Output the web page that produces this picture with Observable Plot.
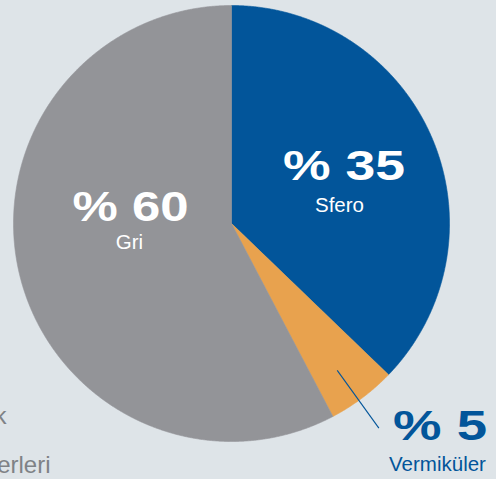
<!DOCTYPE html>
<html><head><meta charset="utf-8">
<script src="https://cdn.jsdelivr.net/npm/d3@7"></script>
<script src="https://cdn.jsdelivr.net/npm/@observablehq/plot@0.6"></script>
<style>
html,body{margin:0;padding:0;background:#dee4e8;overflow:hidden}
#chart svg{display:block}
</style></head><body><div id="chart"></div>
<script>
// Data
const categories = ["Sfero", "Vermiküler", "Gri"];
const percentLabels = [35, 5, 60];           // printed values
const sliceShares = [37.2, 5.1, 57.7];        // slice sizes as drawn in the picture
const colors = ["#02559a", "#e8a24e", "#939498"];
const sideLines = ["k", "erleri"];            // visible fragments at the left edge

// Layout
const W = 496, H = 479, cx = 231, cy = 223, R = 218;
const labelLayout = {               // pixel anchors (baselines) of label groups
  "Sfero":      {nx: 343.5, ny: 179, lx: 339, ly: 211, fill: "#ffffff", len: 122},
  "Vermiküler": {nx: 439.5, ny: 439, lx: 437, ly: 470, fill: "#02559a", len: 94},
  "Gri":        {nx: 130,   ny: 220, lx: 129, ly: 248, fill: "#ffffff", len: 116}
};
const ux = px => (px - cx) / R, uy = py => (cy - py) / R;

const arcs = d3.pie().sort(null).value(d => d.share)(
  categories.map((c, i) => ({name: c, share: sliceShares[i], pct: percentLabels[i]}))
);

const poly = [];
arcs.forEach(a => {
  const n = Math.max(2, Math.ceil((a.endAngle - a.startAngle) / 0.004));
  poly.push({name: a.data.name, x: 0, y: 0});
  for (let k = 0; k <= n; k++) {
    const t = a.startAngle + (a.endAngle - a.startAngle) * k / n;
    poly.push({name: a.data.name, x: Math.sin(t), y: Math.cos(t)});
  }
  poly.push({name: a.data.name, x: 0, y: 0});
});

const labels = arcs.map(a => {
  const L = labelLayout[a.data.name];
  return {name: a.data.name, pct: "% " + a.data.pct, nx: ux(L.nx), ny: uy(L.ny), lx: ux(L.lx), ly: uy(L.ly), fill: L.fill, len: L.len};
});

const small = arcs.find(a => a.data.name === "Vermiküler");
const mid = (small.startAngle + small.endAngle) / 2 + 0.02;
const leader = [{x1: 0.83 * Math.sin(mid), y1: 0.83 * Math.cos(mid), x2: 1.157 * Math.sin(mid), y2: 1.157 * Math.cos(mid)}];

const side = sideLines.map((t, i) => ({t, x: ux([6, 50][i]), y: uy([423, 472][i])}));

const chart = Plot.plot({
  width: W, height: H,
  marginTop: 0, marginRight: 0, marginBottom: 0, marginLeft: 0,
  style: {background: "transparent", overflow: "hidden"},
  x: {domain: [ux(0), ux(W)], range: [0, W], axis: null},
  y: {domain: [uy(H), uy(0)], range: [H, 0], axis: null},
  color: {domain: categories, range: colors},
  marks: [
    Plot.line(poly, {x: "x", y: "y", z: "name", fill: "name", stroke: "name", strokeWidth: 0.6, curve: "linear"}),
    Plot.link(leader, {x1: "x1", y1: "y1", x2: "x2", y2: "y2", stroke: "#02559a", strokeWidth: 1.1}),
    Plot.text(labels, {x: "nx", y: "ny", text: "pct", fill: d => d.fill, textAnchor: "middle", lineAnchor: "bottom",
      fontFamily: "Liberation Sans", fontWeight: "bold", fontSize: 42}),
    Plot.text(labels, {x: "lx", y: "ly", text: "name", fill: d => d.fill, textAnchor: "middle", lineAnchor: "bottom",
      fontFamily: "Liberation Sans", fontSize: 20.5}),
    Plot.text(side, {x: "x", y: "y", text: "t", fill: "#7f8286", textAnchor: "end", lineAnchor: "bottom",
      fontFamily: "Liberation Sans", fontSize: 24})
  ]
});
// widen the big percentage figures to match the original type
const bigGroup = chart.querySelectorAll('g[aria-label="text"]')[0];
bigGroup.querySelectorAll("text").forEach((el, i) => {
  el.setAttribute("textLength", labels[i].len);
  el.setAttribute("lengthAdjust", "spacingAndGlyphs");
});
document.getElementById("chart").appendChild(chart);
</script></body></html>
